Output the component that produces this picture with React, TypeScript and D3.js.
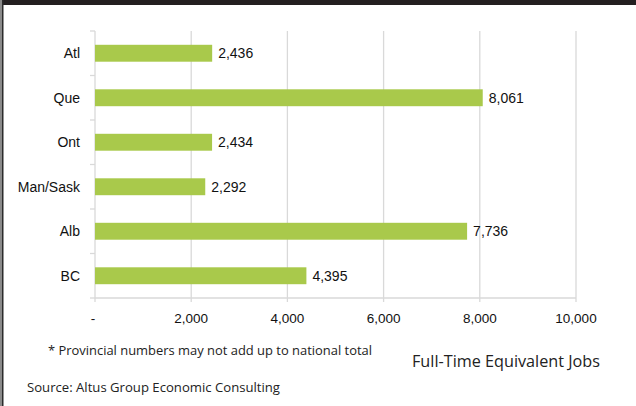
import React from "react";
import * as d3 from "d3";

const categories = ["Atl", "Que", "Ont", "Man/Sask", "Alb", "BC"];
const values = [2436, 8061, 2434, 2292, 7736, 4395];
const tickValues = [0, 2000, 4000, 6000, 8000, 10000];
const tickLabels = ["-", "2,000", "4,000", "6,000", "8,000", "10,000"];
const footnote = "* Provincial numbers may not add up to national total";
const axisTitle = "Full-Time Equivalent Jobs";
const source = "Source: Altus Group Economic Consulting";

const W = 636;
const H = 406;
const plot = { left: 95, right: 576, top: 31, bottom: 298 };
const barColor = "#a9c94b";
const gridColor = "#d9d9d9";
const arial = "'Liberation Sans', Arial, sans-serif";
const myriad = "'Open Sans', sans-serif";

export default function App() {
  const x = d3.scaleLinear().domain([0, 10000]).range([plot.left, plot.right]);
  const y = d3
    .scaleBand<string>()
    .domain(categories)
    .range([plot.top, plot.bottom])
    .paddingInner(0.62)
    .paddingOuter(0.31);
  const band = (plot.bottom - plot.top) / categories.length;
  const fmt = d3.format(",");

  return (
    <svg
      width={W}
      height={H}
      style={{ position: "absolute", left: 0, top: 0, display: "block", background: "#fff" }}
    >
      <rect x={0} y={0} width={W} height={H} fill="#fff" />
      <rect x={0} y={0} width={W} height={5} fill="#231f20" />
      <rect x={0} y={0} width={2} height={H} fill="#8a8a8a" />
      <rect x={2} y={0} width={1.5} height={H} fill="#2b2b2b" />

      {/* gridlines */}
      {tickValues.slice(1).map((t) => (
        <line
          key={"g" + t}
          x1={x(t)}
          x2={x(t)}
          y1={plot.top}
          y2={plot.bottom + 4}
          stroke={gridColor}
          strokeWidth={1.3}
        />
      ))}
      {/* y axis */}
      <line x1={plot.left} x2={plot.left} y1={plot.top} y2={plot.bottom + 4} stroke={gridColor} strokeWidth={1.3} />
      {d3.range(categories.length + 1).map((i) => (
        <line
          key={"yt" + i}
          x1={plot.left - 5}
          x2={plot.left}
          y1={plot.top + i * band}
          y2={plot.top + i * band}
          stroke={gridColor}
          strokeWidth={1.3}
        />
      ))}
      {/* x axis */}
      <line x1={plot.left} x2={plot.right} y1={plot.bottom} y2={plot.bottom} stroke={gridColor} strokeWidth={1.3} />

      {/* bars */}
      {categories.map((c, i) => (
        <g key={c}>
          <rect
            x={x(0)}
            y={y(c)}
            width={x(values[i]) - x(0)}
            height={y.bandwidth()}
            fill={barColor}
          />
          <text
            x={x(values[i]) + 6}
            y={(y(c) as number) + y.bandwidth() / 2}
            dy="0.36em"
            fontFamily={arial}
            fontSize={14}
            fill="#111"
          >
            {fmt(values[i])}
          </text>
          <text
            x={plot.left - 15}
            y={(y(c) as number) + y.bandwidth() / 2}
            dy="0.36em"
            textAnchor="end"
            fontFamily={arial}
            fontSize={14}
            fill="#111"
          >
            {c}
          </text>
        </g>
      ))}

      {/* tick labels */}
      {tickValues.map((t, i) => (
        <text
          key={"tl" + t}
          x={x(t) + (i === 0 ? -2 : 0)}
          y={323}
          textAnchor="middle"
          fontFamily={arial}
          fontSize={13.5}
          fill="#111"
        >
          {tickLabels[i]}
        </text>
      ))}

      <text x={48} y={355} fontFamily={myriad} fontSize={12.5} fill="#222" textLength={324} lengthAdjust="spacingAndGlyphs">
        {footnote}
      </text>
      <text x={412} y={367} fontFamily={myriad} fontSize={15.5} fill="#222" textLength={188} lengthAdjust="spacingAndGlyphs">
        {axisTitle}
      </text>
      <text x={27} y={392} fontFamily={myriad} fontSize={12.5} fill="#222" textLength={253} lengthAdjust="spacingAndGlyphs">
        {source}
      </text>
    </svg>
  );
}
